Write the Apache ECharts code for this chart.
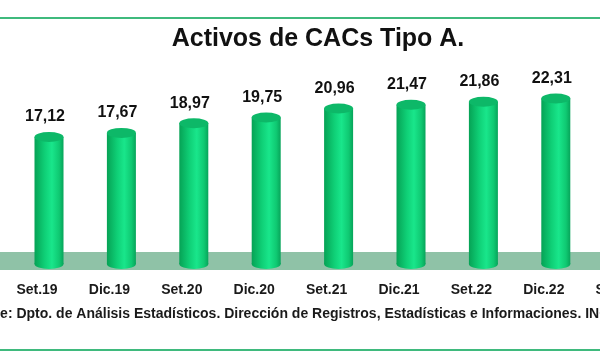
<!DOCTYPE html>
<html>
<head>
<meta charset="utf-8">
<script src="https://cdn.jsdelivr.net/npm/echarts@6/dist/echarts.min.js"></script>
<style>
html,body{margin:0;padding:0;background:#fff;}
#chart{width:600px;height:360px;}
</style>
</head>
<body>
<div id="chart"></div>
<script>
const titleText = 'Activos de CACs Tipo A.';
const sourceText = 'Fuente: Dpto. de Análisis Estadísticos. Dirección de Registros, Estadísticas e Informaciones. INCOOP.';
const categories = ['Set.19','Dic.19','Set.20','Dic.20','Set.21','Dic.21','Set.22','Dic.22','Set.23'];
const values = [17.12, 17.67, 18.97, 19.75, 20.96, 21.47, 21.86, 22.31, null];

const FONT = '"Liberation Sans", Arial, sans-serif';
const chart = echarts.init(document.getElementById('chart'), null, {renderer: 'canvas'});

const bodyGrad = new echarts.graphic.LinearGradient(0, 0, 1, 0, [
  {offset: 0, color: '#06a255'},
  {offset: 0.35, color: '#0fcf76'},
  {offset: 0.6, color: '#19e68b'},
  {offset: 0.85, color: '#0fc972'},
  {offset: 1, color: '#07a45a'}
]);

const fmt = v => Number(v).toFixed(2).replace('.', ',');

chart.setOption({
  animation: false,
  backgroundColor: '#ffffff',
  grid: {left: 12.8, width: 651.6, top: 78.5, bottom: 96, containLabel: false, outerBoundsMode: 'none'},
  xAxis: {
    type: 'category',
    data: categories,
    axisLine: {show: false},
    axisTick: {show: false},
    axisLabel: {
      fontFamily: FONT, fontSize: 14, fontWeight: 'bold', color: '#1a1a1a',
      margin: 19, padding: [0, 24, 0, 0], interval: 0
    }
  },
  yAxis: {type: 'value', min: 0, max: 25, show: false, splitLine: {show: false}},
  graphic: [
    {type: 'rect', z: 0, shape: {x: -10, y: 252, width: 620, height: 18}, style: {fill: '#8fc2a7'}},
    {type: 'line', z: 0, shape: {x1: 0, y1: 18, x2: 600, y2: 18}, style: {stroke: '#3fba7d', lineWidth: 2}},
    {type: 'line', z: 0, shape: {x1: 0, y1: 350, x2: 600, y2: 350}, style: {stroke: '#3fba7d', lineWidth: 2}},
    {type: 'text', z: 5, style: {text: titleText, x: 318, y: 39, textAlign: 'center', textVerticalAlign: 'middle',
      font: 'bold 25px ' + FONT, fill: '#111111'}},
    {type: 'text', z: 5, style: {text: sourceText, x: -38, y: 314, textAlign: 'left', textVerticalAlign: 'middle',
      font: 'bold 14px ' + FONT, fill: '#1a1a1a'}}
  ],
  series: [
    {
      type: 'pictorialBar', data: values, symbol: 'circle', symbolSize: [29, 10],
      symbolPosition: 'start', symbolOffset: [0, '50%'], barGap: '-100%', z: 2,
      itemStyle: {color: bodyGrad}
    },
    {
      type: 'bar', data: values, barWidth: 29, z: 3,
      itemStyle: {color: bodyGrad},
      label: {
        show: true, position: 'top', distance: 12, offset: [-4, 0],
        fontFamily: FONT, fontSize: 16, fontWeight: 'bold', color: '#111111',
        formatter: p => fmt(p.value)
      }
    },
    {
      type: 'pictorialBar', data: values, symbol: 'circle', symbolSize: [29, 10],
      symbolPosition: 'end', symbolOffset: [0, '-50%'], barGap: '-100%', z: 4,
      itemStyle: {color: '#0db868'}
    }
  ]
});
</script>
</body>
</html>
